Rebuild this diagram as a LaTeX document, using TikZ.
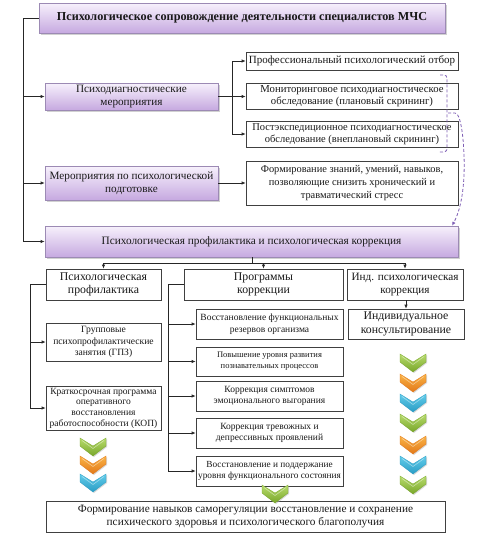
\documentclass[tikz,border=0pt]{standalone}
\usepackage{fontspec}
\setmainfont{Liberation Serif}
\usetikzlibrary{arrows.meta,shadows}
\definecolor{ptop}{HTML}{F7F1FC}
\definecolor{pbot}{HTML}{C6A9E0}
\definecolor{pedge}{HTML}{9C8AB4}
\definecolor{dpurple}{HTML}{7F5FB5}
\definecolor{gtop}{HTML}{B8DC6C}
\definecolor{gbot}{HTML}{78A62A}
\definecolor{otop}{HTML}{FAB446}
\definecolor{obot}{HTML}{E2781A}
\definecolor{btop}{HTML}{62CDEB}
\definecolor{bbot}{HTML}{2A9CC4}
\tikzset{
  wbox/.style={draw=black!75, fill=white, line width=0.6pt, align=center, inner sep=1pt, text=black!90,
    drop shadow={shadow xshift=1pt, shadow yshift=-1pt, fill=black!25, opacity=0.6}},
  pbox/.style={draw=pedge, top color=ptop, bottom color=pbot, line width=0.6pt, align=center, inner sep=1pt, text=black!90,
    drop shadow={shadow xshift=1.5pt, shadow yshift=-1.5pt, fill=black!30, opacity=0.6}},
  conn/.style={draw=black!85, line width=0.6pt},
  arr/.style={conn, -{Latex[length=4pt,width=3.2pt]}},
  dpl/.style={draw=dpurple, line width=0.8pt, dash pattern=on 3pt off 2pt},
}
\newcommand\chev[4]{%
  \fill[black!30, opacity=0.5] ({#1-12},{#2-8}) -- ({#1+1},{#2+1}) -- ({#1+14},{#2-8}) -- ({#1+14},{#2}) -- ({#1+1},{#2+10}) -- ({#1-12},{#2}) -- cycle;
  \shade[top color=#3, bottom color=#4, draw=#4, line width=0.3pt]
   ({#1-13},{#2-9}) -- (#1,{#2-1}) -- ({#1+13},{#2-9}) -- ({#1+13},{#2-1}) -- (#1,{#2+9}) -- ({#1-13},{#2-1}) -- cycle;
  \draw[white, opacity=0.45, line width=0.6pt] ({#1-11},{#2-6.5}) -- (#1,{#2+1.5}) -- ({#1+11},{#2-6.5});
}
\begin{document}
\begin{tikzpicture}[x=1pt,y=-1pt]
\useasboundingbox (0,0) rectangle (480,536);
% top level
\node[pbox, minimum width=406pt, minimum height=30pt, font=\fontsize{12.2}{14}\selectfont\bfseries] (title) at (242,18) {Психологическое сопровождение деятельности специалистов МЧС};
\node[pbox, minimum width=173pt, minimum height=27pt, font=\fontsize{11.2}{13}\selectfont] (pd) at (131.5,96.5) {Психодиагностические\\мероприятия};
\node[pbox, minimum width=173pt, minimum height=34pt, font=\fontsize{11.2}{13.5}\selectfont] (pp) at (131.5,183) {Мероприятия по психологической\\подготовке};
\node[pbox, minimum width=413pt, minimum height=31pt, font=\fontsize{11.3}{13}\selectfont] (big) at (251.5,241.5) {Психологическая профилактика и психологическая коррекция};
% right column top
\node[wbox, minimum width=212pt, minimum height=18pt, font=\fontsize{11}{13}\selectfont] (r1) at (352,61) {Профессиональный психологический отбор};
\node[wbox, minimum width=212pt, minimum height=26pt, font=\fontsize{10.7}{12}\selectfont] (r2) at (352,96) {Мониторинговое психодиагностическое\\обследование (плановый скрининг)};
\node[wbox, minimum width=212pt, minimum height=26pt, font=\fontsize{10.5}{12}\selectfont] (r3) at (352,134) {Постэкспедиционное психодиагностическое\\обследование (внеплановый скрининг)};
\node[wbox, minimum width=212pt, minimum height=44pt, font=\fontsize{10.4}{13}\selectfont] (r4) at (352,183) {Формирование знаний, умений, навыков,\\позволяющие снизить хронический и\\травматический стресс};
% second level
\node[wbox, minimum width=115pt, minimum height=31pt, font=\fontsize{11.8}{13.5}\selectfont] (c1) at (103.5,284.5) {Психологическая\\профилактика};
\node[wbox, minimum width=159pt, minimum height=31pt, font=\fontsize{11.8}{13.5}\selectfont] (c2) at (263.5,284.5) {Программы\\коррекции};
\node[wbox, minimum width=116pt, minimum height=31pt, font=\fontsize{11.2}{13.5}\selectfont] (c3) at (405,284.5) {Инд. психологическая\\коррекция};
% left column
\node[wbox, minimum width=115pt, minimum height=38pt, font=\fontsize{9.6}{11.5}\selectfont] (l1) at (103.5,342) {Групповые\\психопрофилактические\\занятия (ГПЗ)};
\node[wbox, minimum width=115pt, minimum height=44pt, font=\fontsize{9.5}{10.6}\selectfont] (l2) at (103.5,408) {Краткосрочная программа\\оперативного\\восстановления\\работоспособности (КОП)};
% middle column
\node[wbox, minimum width=147pt, minimum height=30pt, font=\fontsize{9.5}{11.5}\selectfont] (m1) at (269.5,324) {Восстановление функциональных\\резервов организма};
\node[wbox, minimum width=147pt, minimum height=29pt, font=\fontsize{8.5}{11}\selectfont] (m2) at (269.5,361.5) {Повышение уровня развития\\познавательных процессов};
\node[wbox, minimum width=147pt, minimum height=30pt, font=\fontsize{9.5}{11.5}\selectfont] (m3) at (269.5,396) {Коррекция симптомов\\эмоционального выгорания};
\node[wbox, minimum width=147pt, minimum height=30pt, font=\fontsize{9.5}{11.5}\selectfont] (m4) at (269.5,433) {Коррекция тревожных и\\депрессивных проявлений};
\node[wbox, minimum width=147pt, minimum height=30pt, font=\fontsize{9.3}{11.5}\selectfont] (m5) at (269.5,471) {Восстановление и поддержание\\уровня функционального состояния};
% right column
\node[wbox, minimum width=116pt, minimum height=30pt, font=\fontsize{11.8}{13.5}\selectfont] (ik) at (406,324) {Индивидуальное\\консультирование};
% bottom
\node[wbox, minimum width=399pt, minimum height=31pt, font=\fontsize{11.3}{13}\selectfont] (res) at (245.5,516.5) {Формирование навыков саморегуляции восстановление и сохранение\\психического здоровья и психологического благополучия};
% connectors: left trunk
\coordinate (lx) at (23,0);
\draw[conn] (title.west) -- (title.west -| lx) -- (big.west -| lx);
\draw[arr] (pd.west -| lx) -- (pd.west);
\draw[arr] (pp.west -| lx) -- (pp.west);
\draw[arr] (big.west -| lx) -- (big.west);
% diagnostics branch
\coordinate (mx) at (232,0);
\draw[arr] (pd.east) -- (pd.east -| r2.west);
\draw[conn] (r1.west -| mx) -- (r3.west -| mx);
\draw[arr] (r1.west -| mx) -- (r1.west);
\draw[arr] (r3.west -| mx) -- (r3.west);
\draw[arr] (pp.east) -- (r4.west);
% big to children
\coordinate (hb) at (252,263);
\draw[conn] (hb |- big.south) -- (hb);
\draw[conn] (c1.north |- hb) -- (c3.north |- hb);
\draw[arr] (c1.north |- hb) -- (c1.north);
\draw[arr] (c2.north |- hb) -- (c2.north);
\draw[arr] (c3.north |- hb) -- (c3.north);
% left column
\coordinate (lx2) at (30,0);
\draw[conn] (c1.west) -- (c1.west -| lx2) -- (l2.west -| lx2);
\draw[arr] (l1.west -| lx2) -- (l1.west);
\draw[arr] (l2.west -| lx2) -- (l2.west);
% middle column
\coordinate (mx2) at (168,0);
\draw[conn] (c2.west) -- (c2.west -| mx2) -- (m5.west -| mx2);
\draw[arr] (m1.west -| mx2) -- (m1.west);
\draw[arr] (m2.west -| mx2) -- (m2.west);
\draw[arr] (m3.west -| mx2) -- (m3.west);
\draw[arr] (m4.west -| mx2) -- (m4.west);
\draw[arr] (m5.west -| mx2) -- (m5.west);
% right
\draw[arr] (ik.north |- c3.south) -- (ik.north);
% dashed purple brackets
\coordinate (d1s) at (440,75);
\coordinate (d1e) at (438,152);
\draw[dpl] (d1s) .. controls (447,75) .. (447,82) -- (447,146) .. controls (447,152) .. (d1e);
\coordinate (d2s) at (448,113);
\draw[dpl, -{Latex[length=4pt,width=3.5pt]}] (d2s) -- (455,113) .. controls (462,113) and (465,150) .. (464,175) .. controls (463,200) and (458,215) .. (big.north east -| 452,0);
% chevrons
\chev{93}{447}{gtop}{gbot}
\chev{93}{465}{otop}{obot}
\chev{93}{483}{btop}{bbot}
\chev{275}{494}{gtop}{gbot}
\chev{413}{363}{gtop}{gbot}
\chev{413}{383}{otop}{obot}
\chev{413}{403}{btop}{bbot}
\chev{413}{423}{gtop}{gbot}
\chev{413}{445}{otop}{obot}
\chev{413}{465}{btop}{bbot}
\chev{413}{485}{gtop}{gbot}
\end{tikzpicture}
\end{document}
